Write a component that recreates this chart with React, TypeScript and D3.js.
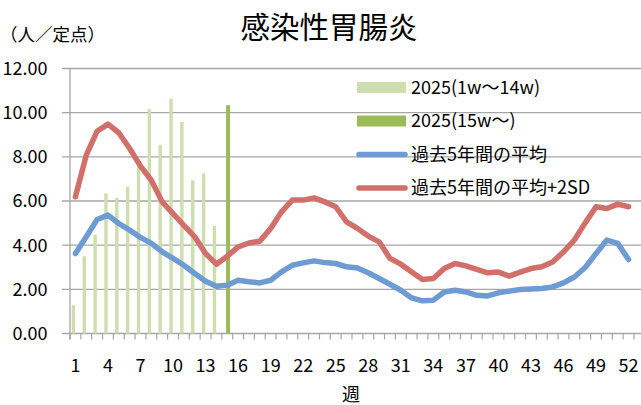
import React from "react";
import * as d3 from "d3";

const weeks: number[] = Array.from({ length: 52 }, (_, i) => i + 1);
const xTickLabels: number[] = [1, 4, 7, 10, 13, 16, 19, 22, 25, 28, 31, 34, 37, 40, 43, 46, 49, 52];
const yTicks: number[] = [0, 2, 4, 6, 8, 10, 12];

const bars2025Early: number[] = [1.28, 3.5, 4.48, 6.34, 6.14, 6.64, 7.58, 10.16, 8.53, 10.64, 9.58, 6.94, 7.25, 4.87];
const bars2025Late: { week: number; value: number }[] = [{ week: 15, value: 10.34 }];

const mean5y: number[] = [
  3.62, 4.38, 5.16, 5.36, 4.98, 4.68, 4.35, 4.08, 3.7, 3.4,
  3.09, 2.72, 2.37, 2.14, 2.19, 2.41, 2.34, 2.29, 2.41, 2.79,
  3.09, 3.2, 3.29, 3.21, 3.17, 3.02, 2.97, 2.75, 2.49, 2.23,
  1.96, 1.61, 1.48, 1.51, 1.88, 1.96, 1.88, 1.73, 1.7, 1.84,
  1.92, 1.99, 2.02, 2.04, 2.11, 2.29, 2.56, 2.99, 3.62, 4.23,
  4.08, 3.35,
];

const mean2sd: number[] = [
  6.19, 8.08, 9.16, 9.48, 9.09, 8.38, 7.58, 6.94, 5.96, 5.43,
  4.9, 4.38, 3.62, 3.14, 3.5, 3.92, 4.1, 4.18, 4.76, 5.51,
  6.04, 6.04, 6.14, 5.96, 5.74, 5.05, 4.76, 4.41, 4.15, 3.4,
  3.14, 2.79, 2.45, 2.49, 2.94, 3.17, 3.06, 2.9, 2.75, 2.78,
  2.6, 2.78, 2.94, 3.02, 3.24, 3.7, 4.23, 5.01, 5.74, 5.66,
  5.86, 5.74,
];

const legendLabels: string[] = ["2025(1w～14w)", "2025(15w～)", "過去5年間の平均", "過去5年間の平均+2SD"];

const COLORS = {
  light: "#cddfae",
  dark: "#9bbb59",
  blue: "#6e9bd1",
  red: "#d16f6b",
  grid: "#a6a6a6",
};

const FONT = "'Noto Sans CJK JP', 'Noto Sans', sans-serif";

export default function App() {
  const W = 641;
  const H = 405;
  const x = d3.scaleBand<number>().domain(weeks).range([70, 634]).padding(0);
  const bw = x.bandwidth();
  const cx = (w: number) => (x(w) as number) + bw / 2;
  const y = d3.scaleLinear().domain([0, 12]).range([333.5, 68.5]);
  const barW = 3.4;

  const line = d3
    .line<number>()
    .x((_, i) => cx(weeks[i]))
    .y((d) => y(d))
    .curve(d3.curveLinear);

  const legendY = [87.5, 121, 154.5, 188];

  return (
    <svg
      width={W}
      height={H}
      style={{ position: "absolute", left: 0, top: 0, background: "#fff" }}
      fontFamily={FONT}
    >
      <rect x={0} y={0} width={W} height={H} fill="#fff" />
      {/* title */}
      <text x={329} y={37.5} textAnchor="middle" fontSize={29.5} fill="#000">
        感染性胃腸炎
      </text>
      <text x={0} y={41} fontSize={17.5} fill="#000">
        （人／定点）
      </text>

      {/* gridlines */}
      {yTicks.map((t) => (
        <line key={"g" + t} x1={62} x2={641} y1={y(t)} y2={y(t)} stroke={COLORS.grid} strokeWidth={1.3} />
      ))}
      {/* y axis line */}
      <line x1={70} x2={70} y1={y(12)} y2={y(0) + 6} stroke={COLORS.grid} strokeWidth={1.3} />
      {yTicks.map((t) => (
        <text key={"yl" + t} x={47.5} y={y(t)} dy="0.36em" textAnchor="end" fontSize={18} fill="#000">
          {t.toFixed(2)}
        </text>
      ))}

      {/* x ticks */}
      {[...weeks, 53].map((w) => {
        const xx = 70 + (w - 1) * bw;
        return <line key={"xt" + w} x1={xx} x2={xx} y1={y(0)} y2={y(0) + 6} stroke={COLORS.grid} strokeWidth={1.2} />;
      })}
      {xTickLabels.map((w) => (
        <text key={"xl" + w} x={cx(w)} y={372} textAnchor="middle" fontSize={18} fill="#000">
          {w}
        </text>
      ))}
      <text x={351} y={401} textAnchor="middle" fontSize={18} fill="#000">
        週
      </text>

      {/* bars */}
      {bars2025Early.map((v, i) => (
        <rect
          key={"b" + i}
          x={cx(weeks[i]) - barW - 0.3}
          y={y(v)}
          width={barW}
          height={y(0) - y(v)}
          fill={COLORS.light}
        />
      ))}
      {bars2025Late.map((d) => (
        <rect
          key={"bl" + d.week}
          x={cx(d.week) - 1.2}
          y={y(d.value)}
          width={barW + 0.6}
          height={y(0) - y(d.value)}
          fill={COLORS.dark}
        />
      ))}

      {/* lines */}
      <path d={line(mean2sd) || ""} fill="none" stroke={COLORS.red} strokeWidth={5.5} strokeLinejoin="round" strokeLinecap="round" />
      <path d={line(mean5y) || ""} fill="none" stroke={COLORS.blue} strokeWidth={5.5} strokeLinejoin="round" strokeLinecap="round" />

      {/* legend */}
      <rect x={357} y={legendY[0] - 5.5} width={49} height={11} fill={COLORS.light} />
      <rect x={357} y={legendY[1] - 5.5} width={49} height={11} fill={COLORS.dark} />
      <line x1={359} x2={405} y1={legendY[2]} y2={legendY[2]} stroke={COLORS.blue} strokeWidth={5.5} strokeLinecap="round" />
      <line x1={359} x2={405} y1={legendY[3]} y2={legendY[3]} stroke={COLORS.red} strokeWidth={5.5} strokeLinecap="round" />
      {legendLabels.map((l, i) => (
        <text key={"lg" + i} x={411} y={legendY[i]} dy="0.36em" fontSize={18} fill="#000">
          {l}
        </text>
      ))}
    </svg>
  );
}
